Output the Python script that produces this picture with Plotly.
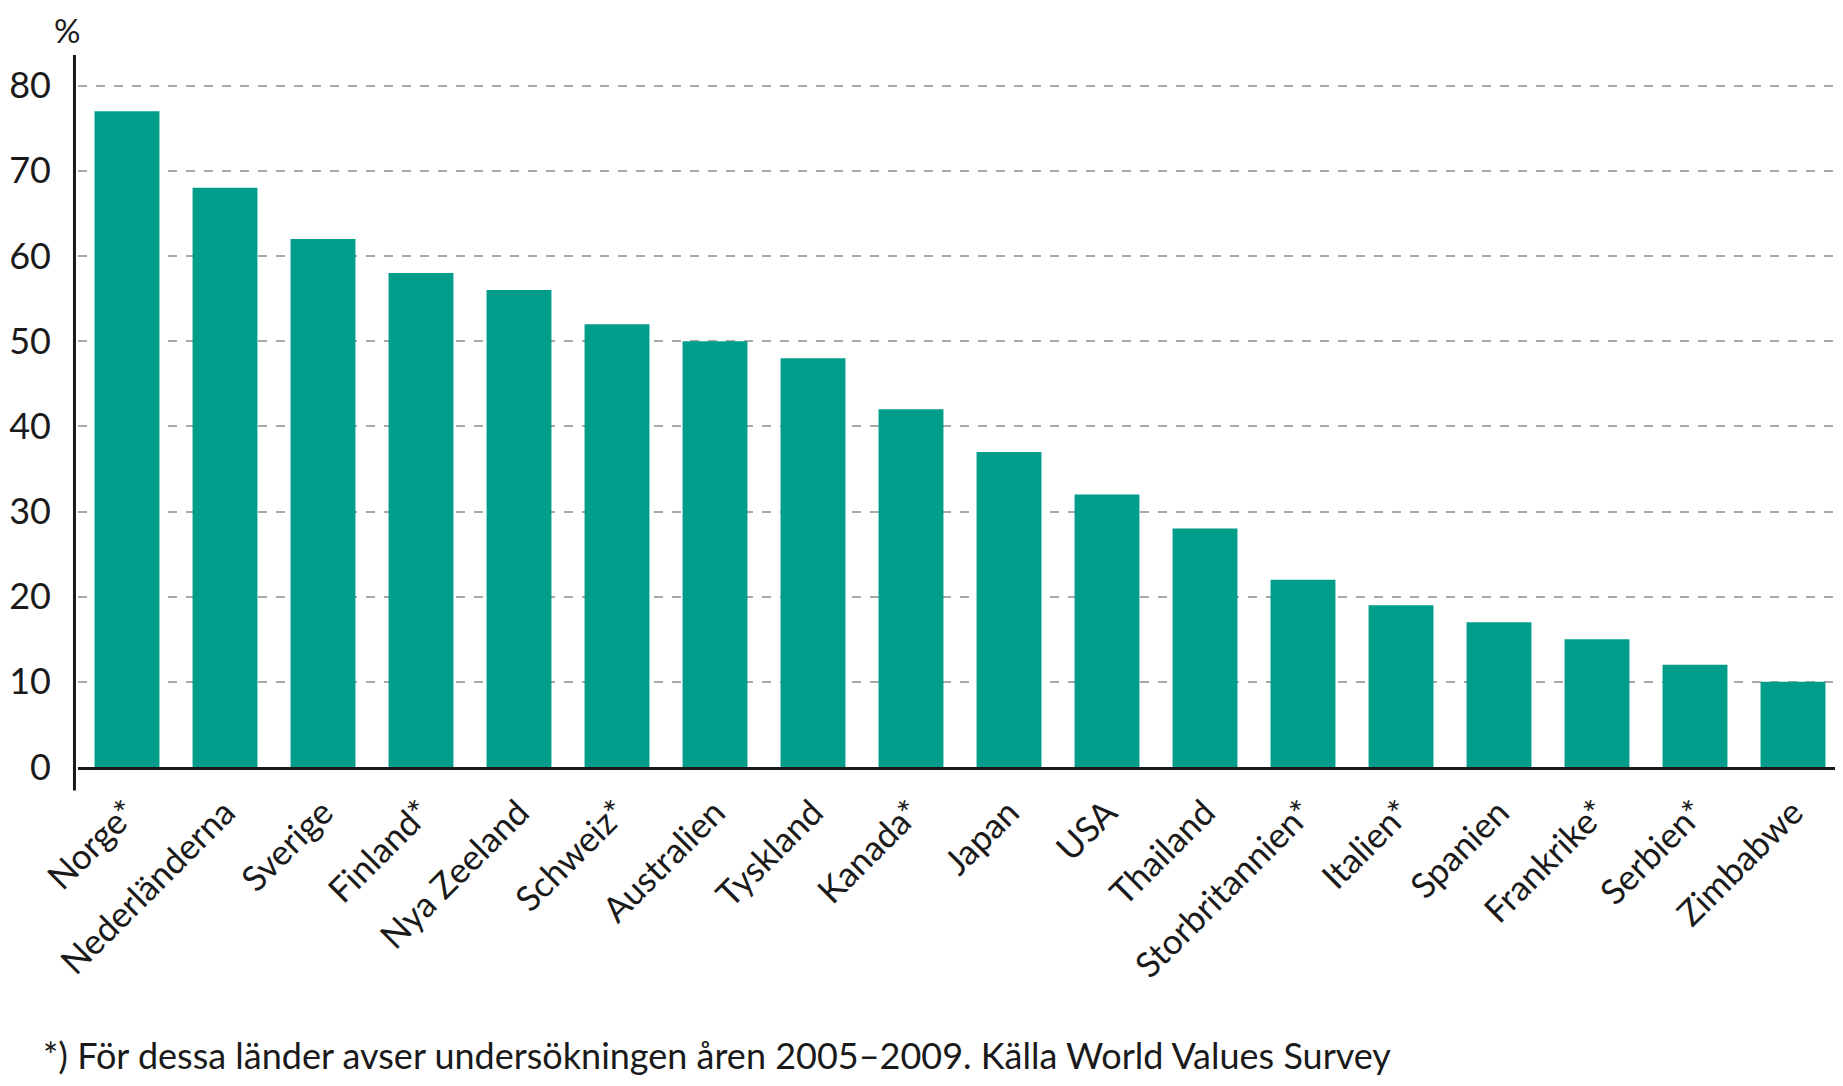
import plotly.graph_objects as go

countries = ["Norge*", "Nederländerna", "Sverige", "Finland*", "Nya Zeeland", "Schweiz*",
             "Australien", "Tyskland", "Kanada*", "Japan", "USA", "Thailand",
             "Storbritannien*", "Italien*", "Spanien", "Frankrike*", "Serbien*", "Zimbabwe"]
values = [77, 68, 62, 58, 56, 52, 50, 48, 42, 37, 32, 28, 22, 19, 17, 15, 12, 10]
y_ticks = [0, 10, 20, 30, 40, 50, 60, 70, 80]

FONT = "Lato"
fig = go.Figure(go.Bar(x=countries, y=values, marker=dict(color="#009E8A", line=dict(width=0)),
                       hoverinfo="x+y"))

fig.update_layout(
    width=1835, height=1078,
    margin=dict(l=66, r=1, t=47, b=319),
    paper_bgcolor="white", plot_bgcolor="white",
    bargap=0.338,
    showlegend=False,
    font=dict(family=FONT, size=36, color="#1a1a1a"),
)
fig.update_yaxes(
    range=[0, 83.6], tickvals=y_ticks, ticktext=[str(v) for v in y_ticks],
    showgrid=True, gridcolor="#a8a8a8", gridwidth=1.5, griddash="dash",
    zeroline=False, showline=False, ticks="", ticklabelstandoff=26,
    tickfont=dict(family=FONT, size=36, color="#1a1a1a"),
    layer="below traces",
)
fig.update_xaxes(
    tickangle=-45, showgrid=False, zeroline=False,
    showline=True, linecolor="#1a1a1a", linewidth=3,
    ticks="", ticklabelstandoff=8,
    tickfont=dict(family=FONT, size=35, color="#1a1a1a"),
)
# vertical axis line extending slightly below the baseline
fig.add_shape(type="line", xref="paper", yref="paper", x0=-0.002, x1=-0.002, y0=-0.033, y1=1.0,
              line=dict(color="#1a1a1a", width=3))
fig.add_annotation(text="%", xref="paper", yref="paper", x=-0.006, y=1.0, yshift=25,
                   xanchor="center", yanchor="middle", showarrow=False, borderpad=0,
                   font=dict(family=FONT, size=33, color="#1a1a1a"))
fig.add_annotation(text="*) För dessa länder avser undersökningen åren 2005–2009. Källa World Values Survey",
                   xref="paper", yref="paper", x=-0.021, y=-0.405, xanchor="left", yanchor="middle",
                   showarrow=False, font=dict(family=FONT, size=36, color="#1a1a1a"))

fig.write_html("out.html")
